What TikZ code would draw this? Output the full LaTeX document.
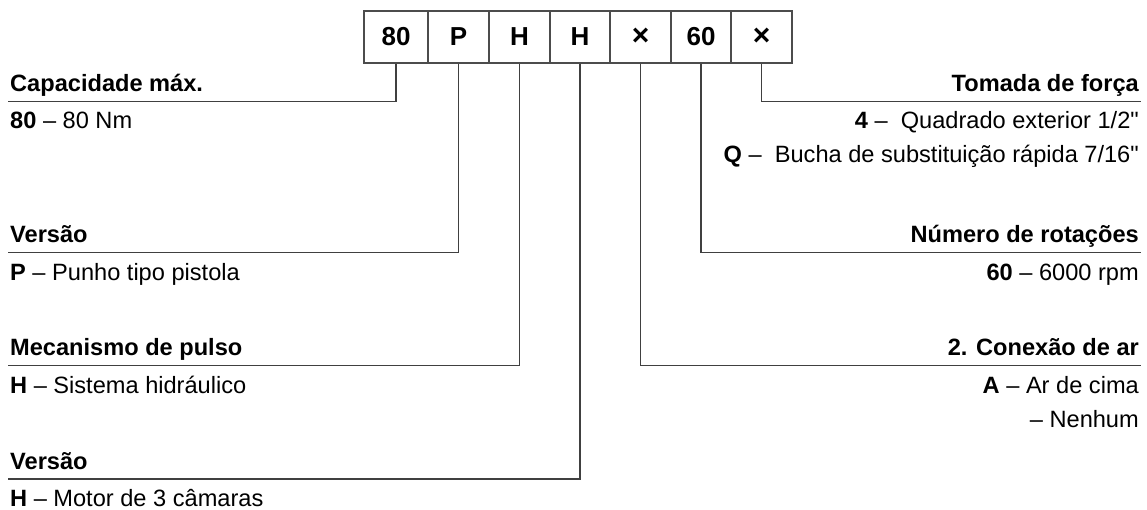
\documentclass[tikz,border=0pt]{standalone}
\usepackage{fontspec}
\setmainfont{Liberation Sans}
\begin{document}
\begin{tikzpicture}[x=1pt,y=-1pt,
  codebox/.style={draw=black!70, line width=1.2pt, minimum height=52pt, inner sep=0pt, font=\fontsize{26}{30}\selectfont\bfseries},
  lead/.style={draw=black!75, line width=1.2pt},
  head/.style={inner sep=0pt, font=\fontsize{23.6}{28}\selectfont\bfseries},
  item/.style={inner sep=0pt, font=\fontsize{23.6}{28}\selectfont}]
\useasboundingbox (0,0) rectangle (1147,509);
% code boxes
\node[codebox, minimum width=64pt] (b1) at (396,37) {80};
\node[codebox, minimum width=61pt] (b2) at (458.5,37) {P};
\node[codebox, minimum width=61pt] (b3) at (519.5,37) {H};
\node[codebox, minimum width=60pt] (b4) at (580,37) {H};
\node[codebox, minimum width=61pt] (b5) at (640.5,37) {\raisebox{-2pt}{\fontsize{30}{30}\selectfont ×}};
\node[codebox, minimum width=60pt] (b6) at (701,37) {60};
\node[codebox, minimum width=61pt] (b7) at (761.5,37) {\raisebox{-2pt}{\fontsize{30}{30}\selectfont ×}};
% line ends
\coordinate (l1) at (8,101.5);
\coordinate (l2) at (8,252.5);
\coordinate (l3) at (8,365.5);
\coordinate (l4) at (8,479);
\coordinate (r1) at (1141,101.5);
\coordinate (r2) at (1141,252.5);
\coordinate (r3) at (1141,365.5);
% connectors
\draw[lead] (b1.south) -- (b1.south |- l1) -- (l1);
\draw[lead] (b2.south) -- (b2.south |- l2) -- (l2);
\draw[lead] (b3.south) -- (b3.south |- l3) -- (l3);
\draw[lead] (b4.south) -- (b4.south |- l4) -- (l4);
\draw[lead] (b5.south) -- (b5.south |- r3) -- (r3);
\draw[lead] (b6.south) -- (b6.south |- r2) -- (r2);
\draw[lead] (b7.south) -- (b7.south |- r1) -- (r1);
% left texts
\node[head, anchor=base west] (h1) at (10,91) {Capacidade máx.};
\node[item, anchor=base west] (t1) at (10,128) {\textbf{80} – 80 Nm};
\node[head, anchor=base west] (h2) at (10,242.5) {Versão};
\node[item, anchor=base west] (t2) at (10,280) {\textbf{P} – Punho tipo pistola};
\node[head, anchor=base west] (h3) at (10,355.5) {Mecanismo de pulso};
\node[item, anchor=base west] (t3) at (10,393) {\textbf{H} – Sistema hidráulico};
\node[head, anchor=base west] (h4) at (10,469) {Versão};
\node[item, anchor=base west] (t4) at (10,506) {\textbf{H} – Motor de 3 câmaras};
% right texts
\node[head, anchor=base east] (h5) at (1139,91) {Tomada de força};
\node[item, anchor=base east] (t5) at (1139,128) {\textbf{4} –\ \ Quadrado exterior 1/2\textquotedbl};
\node[item, anchor=base east] (t6) at (1139,162) {\textbf{Q} –\ \ Bucha de substituição rápida 7/16\textquotedbl};
\node[head, anchor=base east] (h6) at (1139,242.5) {Número de rotações};
\node[item, anchor=base east] (t7) at (1139,280) {\textbf{60} – 6000 rpm};
\node[head, anchor=base east] (h7) at (1139,355.5) {2. Conexão de ar};
\node[item, anchor=base east] (t8) at (1139,393) {\textbf{A} – Ar de cima};
\node[item, anchor=base east] (t9) at (1139,427) {– Nenhum};
\end{tikzpicture}
\end{document}
